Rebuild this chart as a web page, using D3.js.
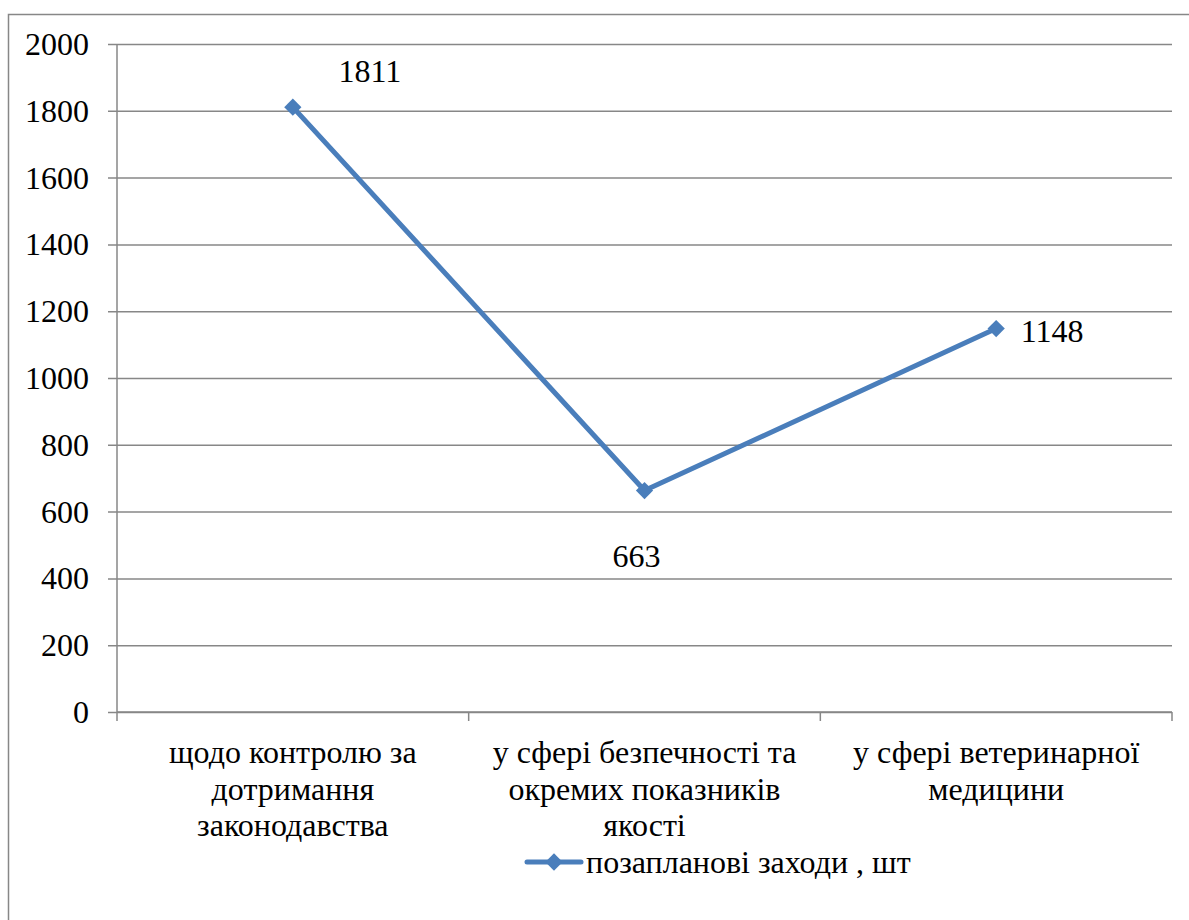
<!DOCTYPE html>
<html>
<head>
<meta charset="utf-8">
<script src="https://cdn.jsdelivr.net/npm/d3@7/dist/d3.min.js"></script>
<style>
  body { margin: 0; font-family: "Times New Roman", "Liberation Serif", serif; }
  #chart text { font-family: "Times New Roman", "Liberation Serif", serif !important; }
</style>
</head>
<body>
<svg id="chart" width="1189" height="920"></svg>
<script>
// data
var categories = [
    ["щодо контролю за", "дотримання", "законодавства"],
    ["у сфері безпечності та", "окремих показників", "якості"],
    ["у сфері ветеринарної", "медицини"]
];
var values = [1811, 663, 1148];
var yTicks = [0, 200, 400, 600, 800, 1000, 1200, 1400, 1600, 1800, 2000];
var seriesName = "позапланові заходи , шт";

var plotLeft = 117, plotRight = 1172, plotTop = 44, plotBottom = 712;
var fontSize = 32;
var lineColor = "#4a7ebb";
var gridColor = "#878787";

var svg = d3.select("#chart");

// outer chart border (right and bottom fall outside the picture)
svg.append("rect")
    .attr("x", 8.5).attr("y", 14.5)
    .attr("width", 1200).attr("height", 950)
    .attr("fill", "none")
    .attr("stroke", gridColor)
    .attr("stroke-width", 1.5);

var x = d3.scaleBand()
    .domain(d3.range(categories.length))
    .range([plotLeft, plotRight])
    .padding(0);

var y = d3.scaleLinear()
    .domain([0, 2000])
    .range([plotBottom, plotTop]);

function addText(str, tx, ty, anchor) {
    return svg.append("text")
        .attr("x", tx)
        .attr("y", ty)
        .attr("font-size", fontSize)
        .attr("font-family", "Times New Roman")
        .attr("text-anchor", anchor)
        .attr("fill", "#000")
        .text(str);
}

// gridlines through the axis generator, labels drawn separately
var gy = svg.append("g")
    .attr("transform", "translate(" + plotLeft + ",0)")
    .call(d3.axisLeft(y)
        .tickValues(yTicks)
        .tickSize(-(plotRight - plotLeft))
        .tickSizeOuter(0)
        .tickFormat(""));
gy.attr("font-family", null);
gy.select(".domain").remove();
gy.selectAll(".tick text").remove();
gy.selectAll(".tick line")
    .attr("x1", -9)
    .attr("stroke", gridColor)
    .attr("stroke-width", 1.5);

yTicks.forEach(function (t) {
    addText(String(t), 89, y(t) + 11, "end");
});

// y axis line
svg.append("line")
    .attr("x1", plotLeft).attr("x2", plotLeft)
    .attr("y1", plotTop).attr("y2", plotBottom)
    .attr("stroke", gridColor)
    .attr("stroke-width", 1.5);

// x axis with category ticks at band edges
var edges = d3.range(categories.length + 1).map(function (i) {
    return i < categories.length ? x(i) : x(i - 1) + x.bandwidth();
});
svg.append("line")
    .attr("x1", plotLeft).attr("x2", plotRight)
    .attr("y1", plotBottom).attr("y2", plotBottom)
    .attr("stroke", gridColor)
    .attr("stroke-width", 1.5);
svg.selectAll(".xtick")
    .data(edges)
    .enter()
    .append("line")
    .attr("class", "xtick")
    .attr("x1", function (d) { return d; })
    .attr("x2", function (d) { return d; })
    .attr("y1", plotBottom)
    .attr("y2", plotBottom + 9)
    .attr("stroke", gridColor)
    .attr("stroke-width", 1.5);

// category labels
categories.forEach(function (lines, i) {
    var cx = x(i) + x.bandwidth() / 2;
    lines.forEach(function (t, j) {
        addText(t, cx, 763 + j * 36.5, "middle");
    });
});

// the line
var pts = values.map(function (v, i) {
    return [x(i) + x.bandwidth() / 2, y(v)];
});
svg.append("path")
    .datum(pts)
    .attr("d", d3.line())
    .attr("fill", "none")
    .attr("stroke", lineColor)
    .attr("stroke-width", 5)
    .attr("stroke-linejoin", "round");

var diamond = d3.symbol().type(d3.symbolDiamond2).size(190);
svg.selectAll(".marker")
    .data(pts)
    .enter()
    .append("path")
    .attr("class", "marker")
    .attr("d", diamond)
    .attr("transform", function (d) { return "translate(" + d[0] + "," + d[1] + ")"; })
    .attr("fill", lineColor);

// data labels (placed by hand in the original)
var labelOffsets = [[77, -25], [-8, 76], [56, 13]];
values.forEach(function (v, i) {
    addText(String(v), pts[i][0] + labelOffsets[i][0], pts[i][1] + labelOffsets[i][1], "middle");
});

// legend
svg.append("line")
    .attr("x1", 527).attr("x2", 581)
    .attr("y1", 862).attr("y2", 862)
    .attr("stroke", lineColor)
    .attr("stroke-width", 5)
    .attr("stroke-linecap", "round");
svg.append("path")
    .attr("d", diamond)
    .attr("transform", "translate(554,862)")
    .attr("fill", lineColor);
addText(seriesName, 586, 873, "start");
</script>
</body>
</html>
